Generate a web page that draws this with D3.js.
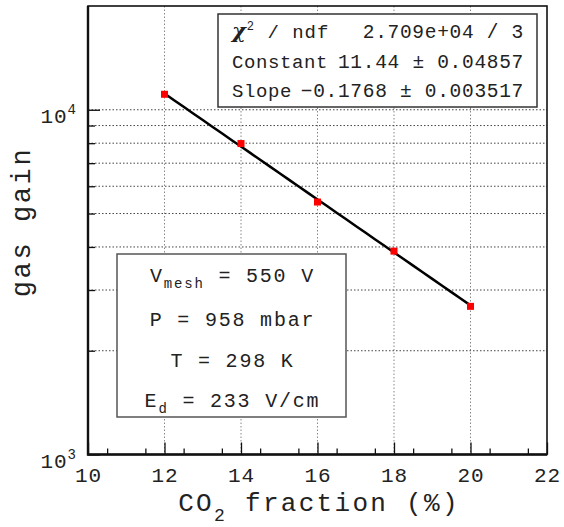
<!DOCTYPE html>
<html>
<head>
<meta charset="utf-8">
<script src="https://cdn.jsdelivr.net/npm/d3@7"></script>
<style>
  body { margin: 0; background: #fff; }
  text { font-family: "Liberation Mono", "DejaVu Sans Mono", monospace; fill: #222; }
</style>
</head>
<body>
<div id="chart"></div>
<script>
// measured points
const co2Fraction = [12, 14, 16, 18, 20];
const gasGain = [11090, 7980, 5400, 3890, 2690];

// expo fit result shown in the stats box
const fitConstant = 11.44;
const fitSlope = -0.1768;

const xMajorTicks = [10, 12, 14, 16, 18, 20, 22];
const xMinorTicks = d3.range(10.5, 22, 1);
const xGridTicks = [12, 14, 16, 18, 20];
const yDecades = [1000, 10000];
const yDecadeExp = ["3", "4"];
const yMinorTicks = [2000, 3000, 4000, 5000, 6000, 7000, 8000, 9000];

const statNames = ["ndf", "Constant", "Slope"];
const statValues = ["2.709e+04 / 3", "11.44 \u00b1 0.04857", "\u22120.1768 \u00b1 0.003517"];

const margin = {top: 6, right: 17, bottom: 72.5, left: 88},
    width = 564 - margin.left - margin.right,
    height = 527 - margin.top - margin.bottom;

const svg = d3.select("#chart")
  .append("svg")
    .attr("width", 564)
    .attr("height", 527);

const g = svg.append("g")
    .attr("transform", "translate(" + margin.left + "," + margin.top + ")");

const x = d3.scaleLinear().domain([10, 22]).range([0, width]);
const y = d3.scaleLog().domain([1000, 20000]).range([height, 0]);

// grid
g.selectAll(".vgrid")
  .data(xGridTicks)
  .join("line")
    .attr("x1", d => x(d)).attr("x2", d => x(d))
    .attr("y1", 0).attr("y2", height)
    .attr("stroke", "#888")
    .attr("stroke-width", 1)
    .attr("stroke-dasharray", "1.5,2");

g.selectAll(".hgrid")
  .data(yMinorTicks.concat([10000]))
  .join("line")
    .attr("x1", 0).attr("x2", width)
    .attr("y1", d => y(d)).attr("y2", d => y(d))
    .attr("stroke", "#444")
    .attr("stroke-width", 1)
    .attr("stroke-dasharray", "1.5,2");

// x axis
const xAxis = g.append("g")
  .attr("transform", "translate(0," + height + ")")
  .call(d3.axisBottom(x).tickValues(xMajorTicks).tickSize(-12).tickPadding(13).tickFormat(d3.format("d")));
xAxis.selectAll("text")
  .style("font-size", "21px")
  .style("letter-spacing", "1px")
  .style("font-family", "Liberation Mono")
  .attr("fill", "#222");

g.append("g")
  .attr("transform", "translate(0," + height + ")")
  .call(d3.axisBottom(x).tickValues(xMinorTicks).tickSize(-6).tickFormat(""));

// y axis
g.append("g")
  .call(d3.axisLeft(y).tickValues(yDecades).tickSize(-12).tickFormat(""));
g.append("g")
  .call(d3.axisLeft(y).tickValues(yMinorTicks).tickSize(-7).tickFormat(""));

g.selectAll(".domain").attr("stroke", "none");
g.selectAll(".tick line").attr("stroke", "#111").attr("stroke-width", 1.3);

const yLab = g.selectAll(".ylab")
  .data(yDecades)
  .join("text")
    .attr("x", -11)
    .attr("y", d => y(d) + 13)
    .attr("text-anchor", "end")
    .style("font-size", "21px")
    .style("letter-spacing", "1px");
yLab.append("tspan").text("10");
yLab.append("tspan")
  .attr("dy", -9)
  .style("font-size", "14px")
  .text((d, i) => yDecadeExp[i]);

// frame
g.append("rect")
  .attr("width", width)
  .attr("height", height)
  .attr("fill", "none")
  .attr("stroke", "#111")
  .attr("stroke-width", 1.6);
g.append("path")
  .attr("d", "M0,0V" + height + "H" + width)
  .attr("fill", "none")
  .attr("stroke", "#111")
  .attr("stroke-width", 2.4);

// axis titles
const xTitle = svg.append("text")
  .attr("x", 319)
  .attr("y", 511)
  .attr("text-anchor", "middle")
  .style("font-size", "26px")
  .style("letter-spacing", "2.3px");
xTitle.append("tspan").text("CO");
xTitle.append("tspan").attr("dy", 10).style("font-size", "18px").text("2");
xTitle.append("tspan").attr("dy", -10).text(" fraction (%)");

svg.append("text")
  .attr("transform", "translate(30,222) rotate(-90)")
  .attr("text-anchor", "middle")
  .style("font-size", "27px")
  .style("letter-spacing", "2.6px")
  .text("gas gain");

// fit curve
const fitX = d3.range(12, 20.001, 0.25);
const fitLine = d3.line()
  .x(d => x(d))
  .y(d => y(Math.exp(fitConstant + fitSlope * d)));
g.append("path")
  .datum(fitX)
  .attr("d", fitLine)
  .attr("fill", "none")
  .attr("stroke", "#000")
  .attr("stroke-width", 2.5);

// points
g.selectAll(".pt")
  .data(co2Fraction)
  .join("rect")
    .attr("x", d => x(d) - 3.5)
    .attr("y", (d, i) => y(gasGain[i]) - 3.5)
    .attr("width", 7)
    .attr("height", 7)
    .attr("fill", "#f00");

// stats box
const sx0 = 218, sx1 = 537, sy0 = 14, sy1 = 107;
svg.append("rect")
  .attr("x", sx0).attr("y", sy0)
  .attr("width", sx1 - sx0).attr("height", sy1 - sy0)
  .attr("fill", "#fff")
  .attr("stroke", "#333")
  .attr("stroke-width", 1.5);

const rowY = [38, 68, 97];
const chi = svg.append("text")
  .attr("x", 232).attr("y", rowY[0])
  .style("font-size", "19px")
  .style("letter-spacing", "1px");
chi.append("tspan")
  .style("font-family", "DejaVu Serif")
  .style("font-weight", "bold")
  .style("font-style", "italic")
  .style("font-size", "21px")
  .text("\u03c7");
chi.append("tspan").attr("dy", -8).style("font-size", "12px").text("2");
chi.append("tspan").attr("dy", 8).text(" / " + statNames[0]);

svg.selectAll(".sname")
  .data(statNames.slice(1))
  .join("text")
    .attr("x", 232)
    .attr("y", (d, i) => rowY[i + 1])
    .style("font-size", "19px")
    .style("letter-spacing", "0.6px")
    .text(d => d);

svg.selectAll(".sval")
  .data(statValues)
  .join("text")
    .attr("x", 524)
    .attr("y", (d, i) => rowY[i])
    .attr("text-anchor", "end")
    .style("font-size", "19.5px")
    .style("letter-spacing", "0.7px")
    .text(d => d);

// run conditions box
const px0 = 117, px1 = 346, py0 = 254, py1 = 417, pcx = (px0 + px1) / 2;
svg.append("rect")
  .attr("x", px0).attr("y", py0)
  .attr("width", px1 - px0).attr("height", py1 - py0)
  .attr("fill", "#fff")
  .attr("stroke", "#555")
  .attr("stroke-width", 1.5);

const condRows = [
  {main: "V", sub: "mesh", rest: " = 550 V"},
  {main: "P = 958 mbar", sub: "", rest: ""},
  {main: "T = 298 K", sub: "", rest: ""},
  {main: "E", sub: "d", rest: " = 233 V/cm"}
];
const condY = [282, 326, 367, 407];

condRows.forEach((r, i) => {
  const t = svg.append("text")
    .attr("x", pcx + 1)
    .attr("y", condY[i])
    .attr("text-anchor", "middle")
    .style("font-size", "20px")
    .style("letter-spacing", "1.8px");
  t.append("tspan").text(r.main);
  if (r.sub) {
    t.append("tspan").attr("dy", 6).style("font-size", "14px").text(r.sub);
    t.append("tspan").attr("dy", -6).text(r.rest);
  }
});
</script>
</body>
</html>
